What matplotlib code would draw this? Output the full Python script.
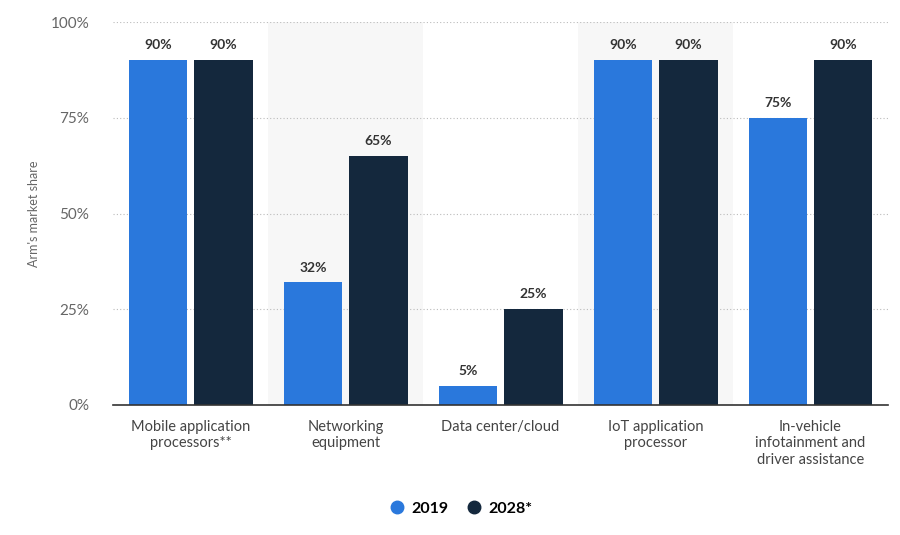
import matplotlib
matplotlib.use("Agg")
import matplotlib.pyplot as plt
from matplotlib.lines import Line2D
import numpy as np

categories = ["Mobile application\nprocessors**", "Networking\nequipment", "Data center/cloud",
              "IoT application\nprocessor", "In-vehicle\ninfotainment and\ndriver assistance"]
series_names = ["2019", "2028*"]
values_2019 = [90, 32, 5, 90, 75]
values_2028 = [90, 65, 25, 90, 90]
yticks = [0, 25, 50, 75, 100]
ytick_labels = ["0%", "25%", "50%", "75%", "100%"]
colors = ["#2a78dc", "#14283d"]

plt.rcParams['font.family'] = ['Lato', 'DejaVu Sans']

fig = plt.figure(figsize=(9, 5.35), dpi=100)
ax = fig.add_axes([113/900, (535-405)/535, (888-113)/900, (405-22)/535])

x = np.arange(len(categories))
w = 0.38
off = 0.21
for i in range(len(categories)):
    if i % 2 == 1:
        ax.axvspan(i - 0.5, i + 0.5, color="#f7f7f7", zorder=0, lw=0)

for vals, o, c in [(values_2019, -off, colors[0]), (values_2028, off, colors[1])]:
    bars = ax.bar(x + o, vals, width=w, color=c, zorder=3)
    for b, v in zip(bars, vals):
        ax.text(b.get_x() + b.get_width()/2, v + 2.3, f"{v}%", ha="center", va="bottom",
                fontsize=10, fontweight="bold", color="#333333", zorder=4)

ax.set_xlim(-0.5, 4.5)
ax.set_ylim(0, 100)
ax.set_yticks(yticks)
ax.set_yticklabels(ytick_labels)
ax.set_xticks(x)
ax.set_xticklabels(categories, fontsize=10.5, color="#444444", linespacing=1.2)
ax.tick_params(axis="y", length=0, labelsize=11, labelcolor="#666666", pad=17)
ax.tick_params(axis="x", length=0, pad=11)
for s in ["top", "right", "left"]:
    ax.spines[s].set_visible(False)
ax.spines["bottom"].set_color("#333333")
ax.spines["bottom"].set_linewidth(1.2)
ax.spines["bottom"].set_zorder(5)
ax.yaxis.grid(True, linestyle=(0, (1, 2)), color="#bbbbbb", linewidth=0.8, zorder=1)
ax.set_axisbelow(True)
ax.set_ylabel("Arm's market share", fontsize=9, color="#666666")
ax.yaxis.set_label_coords((40-113)/775, 0.5)

handles = [Line2D([], [], marker="o", linestyle="", markersize=9, color=c) for c in colors]
fig.legend(handles, series_names, loc="center", bbox_to_anchor=(460/900, 1 - 509/535),
           ncol=2, frameon=False, handletextpad=0.3, columnspacing=1.0, handlelength=1.2,
           prop={"family": ["Lato", "DejaVu Sans"], "weight": "bold", "size": 11.5})

fig.savefig("out.png", dpi=100, facecolor="white")
